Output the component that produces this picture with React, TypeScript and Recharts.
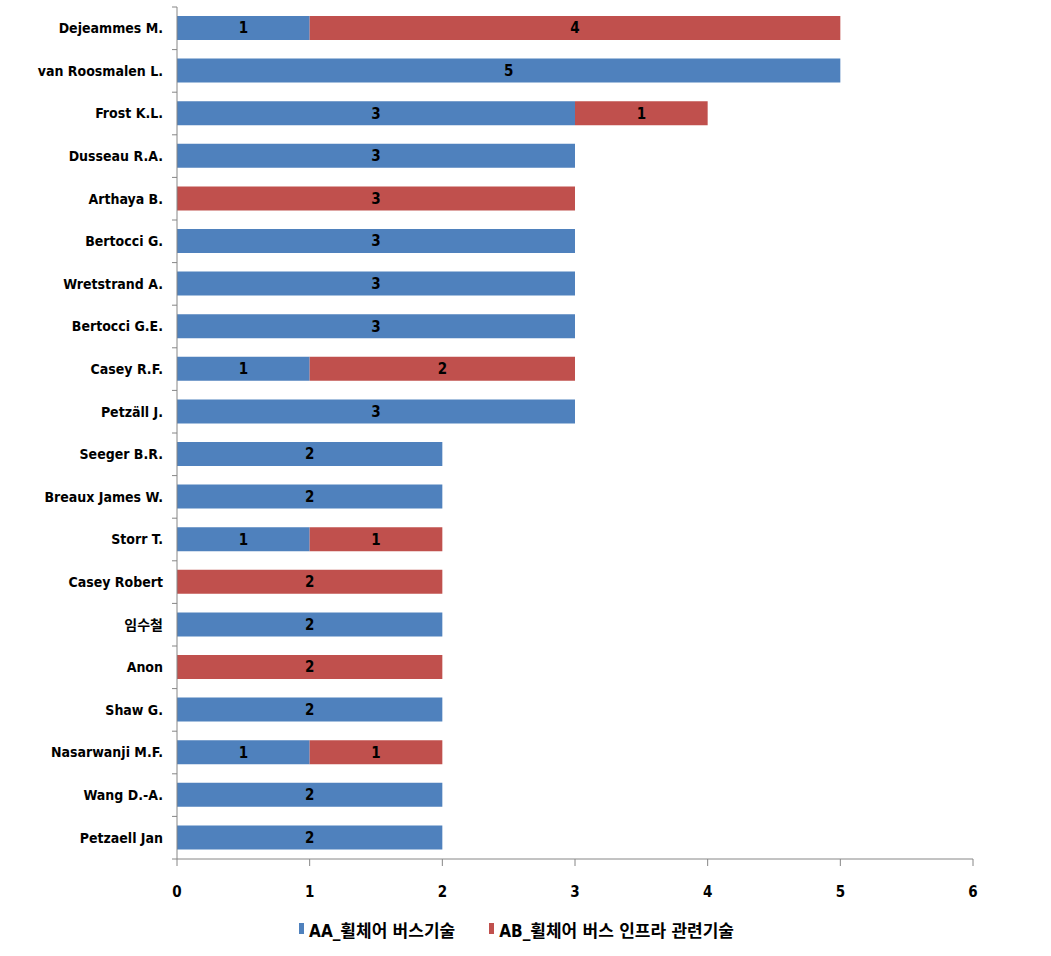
import { Bar, BarChart, LabelList, Legend, XAxis, YAxis } from "recharts";

const authors = [
  "Dejeammes M.",
  "van Roosmalen L.",
  "Frost K.L.",
  "Dusseau R.A.",
  "Arthaya B.",
  "Bertocci G.",
  "Wretstrand A.",
  "Bertocci G.E.",
  "Casey R.F.",
  "Petzäll J.",
  "Seeger B.R.",
  "Breaux James W.",
  "Storr T.",
  "Casey Robert",
  "임수철",
  "Anon",
  "Shaw G.",
  "Nasarwanji M.F.",
  "Wang D.-A.",
  "Petzaell Jan",
];
const busTech = [1, 5, 3, 3, 0, 3, 3, 3, 1, 3, 2, 2, 1, 0, 2, 0, 2, 1, 2, 2];
const infraTech = [4, 0, 1, 0, 3, 0, 0, 0, 2, 0, 0, 0, 1, 2, 0, 2, 0, 1, 0, 0];
const xTicks = [0, 1, 2, 3, 4, 5, 6];

const AA_NAME = "AA_휠체어 버스기술";
const AB_NAME = "AB_휠체어 버스 인프라 관련기술";
const BLUE = "#4F81BD";
const RED = "#C0504D";
const AXIS = "#868686";
const FONT = "'DejaVu Sans Condensed', 'Noto Sans CJK KR', sans-serif";

const data = authors.map((name, i) => ({
  name,
  aa: busTech[i] || null,
  ab: infraTech[i] || null,
}));

const TOP = 7;
const BOTTOM = 859;
const STEP = (BOTTOM - TOP) / authors.length;

function AuthorTick(props: any) {
  const { y, payload, index } = props;
  return (
    <g>
      <line x1={172} x2={177} y1={y - STEP / 2} y2={y - STEP / 2} stroke={AXIS} />
      {index === authors.length - 1 && (
        <line x1={172} x2={177} y1={y + STEP / 2} y2={y + STEP / 2} stroke={AXIS} />
      )}
      <text
        x={163}
        y={y}
        dy="0.35em"
        textAnchor="end"
        fontFamily={FONT}
        fontWeight="bold"
        fontSize={14}
        fill="#000"
      >
        {payload.value}
      </text>
    </g>
  );
}

function LegendBox() {
  const item = (color: string, label: string) => (
    <span style={{ display: "inline-flex", alignItems: "center", margin: "0 17px" }}>
      <span style={{ width: 5, height: 11, background: color, marginRight: 5, marginTop: -3 }} />
      <span>{label}</span>
    </span>
  );
  return (
    <div
      style={{
        height: 43,
        display: "flex",
        justifyContent: "center",
        alignItems: "flex-start",
        paddingTop: 4,
        paddingLeft: 60,
        boxSizing: "border-box",
        fontFamily: FONT,
        fontWeight: "bold",
        fontSize: 17,
        color: "#000",
      }}
    >
      {item(BLUE, AA_NAME)}
      {item(RED, AB_NAME)}
    </div>
  );
}

export default function App() {
  return (
    <div style={{ position: "absolute", left: 0, top: 0, width: 1051, height: 956, background: "#fff" }}>
      <BarChart
        width={1051}
        height={956}
        data={data}
        layout="vertical"
        margin={{ top: TOP, right: 78, bottom: 0, left: 0 }}
        barSize={24}
      >
        <XAxis
          type="number"
          domain={[0, 6]}
          ticks={xTicks}
          height={956 - BOTTOM - 43}
          stroke={AXIS}
          tickSize={7}
          tickMargin={20}
          tick={{ fill: "#000", fontFamily: FONT, fontWeight: "bold", fontSize: 15 }}
        />
        <YAxis
          type="category"
          dataKey="name"
          width={177}
          stroke={AXIS}
          tickLine={false}
          interval={0}
          tick={<AuthorTick />}
        />
        <Legend verticalAlign="bottom" content={<LegendBox />} />
        <Bar dataKey="aa" name={AA_NAME} stackId="s" fill={BLUE} isAnimationActive={false}>
          <LabelList
            dataKey="aa"
            position="center"
            fill="#000"
            fontFamily={FONT}
            fontWeight="bold"
            fontSize={15}
          />
        </Bar>
        <Bar dataKey="ab" name={AB_NAME} stackId="s" fill={RED} isAnimationActive={false}>
          <LabelList
            dataKey="ab"
            position="center"
            fill="#000"
            fontFamily={FONT}
            fontWeight="bold"
            fontSize={15}
          />
        </Bar>
      </BarChart>
    </div>
  );
}
